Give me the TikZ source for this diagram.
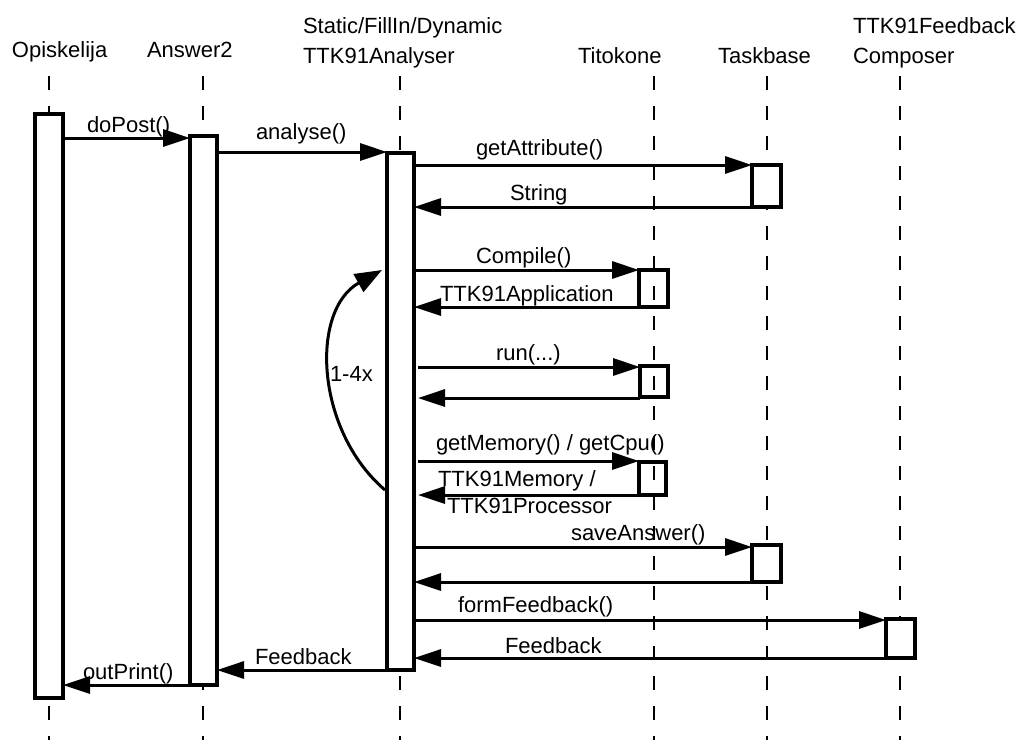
\documentclass[tikz,border=0pt]{standalone}
\usepackage{fontspec}
\setmainfont{Liberation Sans}
\usetikzlibrary{arrows.meta}
\begin{document}
\begin{tikzpicture}[x=1pt,y=-1pt,
  every node/.style={font=\fontsize{22pt}{26pt}\selectfont, inner sep=0pt, outer sep=0pt},
  lifeline/.style={line width=2pt, dash pattern=on 14pt off 16pt},
  actbox/.style={draw, fill=white, line width=3.5pt, inner sep=0pt, outer sep=0pt},
  msg/.style={line width=3pt, -{Triangle[length=27pt,width=17pt]}},
  lbl/.style={anchor=base west}
]
\useasboundingbox (0,0) rectangle (1020,740);
% lifeline anchors
\coordinate (l1t) at (49,76);   \coordinate (l1b) at (49,740);
\coordinate (l2t) at (203,76);  \coordinate (l2b) at (203,740);
\coordinate (l3t) at (400,76);  \coordinate (l3b) at (400,740);
\coordinate (l4t) at (654,76);  \coordinate (l4b) at (654,740);
\coordinate (l5t) at (767,76);  \coordinate (l5b) at (767,740);
\coordinate (l6t) at (900,76);  \coordinate (l6b) at (900,740);
\foreach \i in {1,2,3,5,6}{\draw[lifeline] (l\i t) -- (l\i b);}

% headers
\node[lbl] (h1) at (12,57) {Opiskelija};
\node[lbl] (h2) at (147,57) {Answer2};
\node[lbl] (h3a) at (303,33) {Static/FillIn/Dynamic};
\node[lbl] (h3b) at (303,63) {TTK91Analyser};
\node[lbl] (h4) at (578,63) {Titokone};
\node[lbl] (h5) at (718,63) {Taskbase};
\node[lbl] (h6a) at (853,33) {TTK91Feedback};
\node[lbl] (h6b) at (853,63) {Composer};

% activation boxes
\node[actbox, minimum width=28pt, minimum height=584pt] (opi) at (49,406) {};
\node[actbox, minimum width=27pt, minimum height=549pt] (ans) at (203.5,410.5) {};
\node[actbox, minimum width=27pt, minimum height=517pt] (ana) at (400.5,411.5) {};
\node[actbox, minimum width=29pt, minimum height=42pt] (tb1) at (766.5,186) {};
\node[actbox, minimum width=29pt, minimum height=37pt] (tk1) at (653.5,288.5) {};
\node[actbox, minimum width=28pt, minimum height=31pt] (tk2) at (654,381.5) {};
\node[actbox, minimum width=27pt, minimum height=33pt] (tk3) at (652.5,478.5) {};
\node[actbox, minimum width=29pt, minimum height=37pt] (tb2) at (766.5,563.5) {};
\node[actbox, minimum width=29pt, minimum height=39pt] (fc) at (900.5,638.5) {};
\draw[lifeline] (l4t) -- (l4b);

% messages
\draw[msg] (opi.east |- 0,138) -- (ans.west |- 0,138);
\node[lbl] (m1) at (87,132) {doPost()};
\draw[msg] (ans.east |- 0,152) -- (ana.west |- 0,152);
\node[lbl] (m2) at (256,139) {analyse()};
\draw[msg] (ana.east |- 0,165) -- (tb1.west |- 0,165);
\node[lbl] (m3) at (476,155) {getAttribute()};
\draw[msg] (tb1.west |- 0,207) -- (ana.east |- 0,207);
\node[lbl] (m4) at (510,200) {String};
\draw[msg] (ana.east |- 0,270) -- (tk1.west |- 0,270);
\node[lbl] (m5) at (476,263) {Compile()};
\draw[msg] (tk1.west |- 0,307) -- (ana.east |- 0,307);
\node[lbl] (m6) at (440,301) {TTK91Application};
\draw[msg] ([xshift=4pt]ana.east |- 0,367) -- (tk2.west |- 0,367);
\node[lbl] (m7) at (496,360) {run(...)};
\draw[msg] (tk2.west |- 0,398) -- ([xshift=4pt]ana.east |- 0,398);
\draw[msg] ([xshift=4pt]ana.east |- 0,461) -- (tk3.west |- 0,461);
\node[lbl] (m8) at (436,450) {getMemory() / getCpu()};
\draw[msg] (tk3.west |- 0,495) -- ([xshift=4pt]ana.east |- 0,495);
\node[lbl] (m9a) at (438,486) {TTK91Memory /};
\node[lbl] (m9b) at (447,513) {TTK91Processor};
\draw[msg] (ana.east |- 0,547) -- (tb2.west |- 0,547);
\node[lbl] (m10) at (571,540) {saveAnswer()};
\draw[msg] (tb2.west |- 0,582) -- (ana.east |- 0,582);
\draw[msg] (ana.east |- 0,620) -- (fc.west |- 0,620);
\node[lbl] (m11) at (458,612) {formFeedback()};
\draw[msg] (fc.west |- 0,658) -- (ana.east |- 0,658);
\node[lbl] (m12) at (505,653) {Feedback};
\draw[msg] (ana.west |- 0,670) -- (ans.east |- 0,670);
\node[lbl] (m13) at (255,664) {Feedback};
\draw[msg] (ans.west |- 0,685) -- (opi.east |- 0,685);
\node[lbl] (m14) at (83,679) {outPrint()};

% loop arrow
\coordinate (loopS) at ([xshift=-2pt]ana.west |- 0,490);
\coordinate (loopE) at ([xshift=-5pt]ana.west |- 0,270);
\draw[line width=3pt, -{Triangle[length=27pt,width=20pt]}] (loopS) .. controls (315,430) and (310,310) .. (loopE);
\node[lbl] (m15) at (330,381) {1-4x};
\end{tikzpicture}
\end{document}
